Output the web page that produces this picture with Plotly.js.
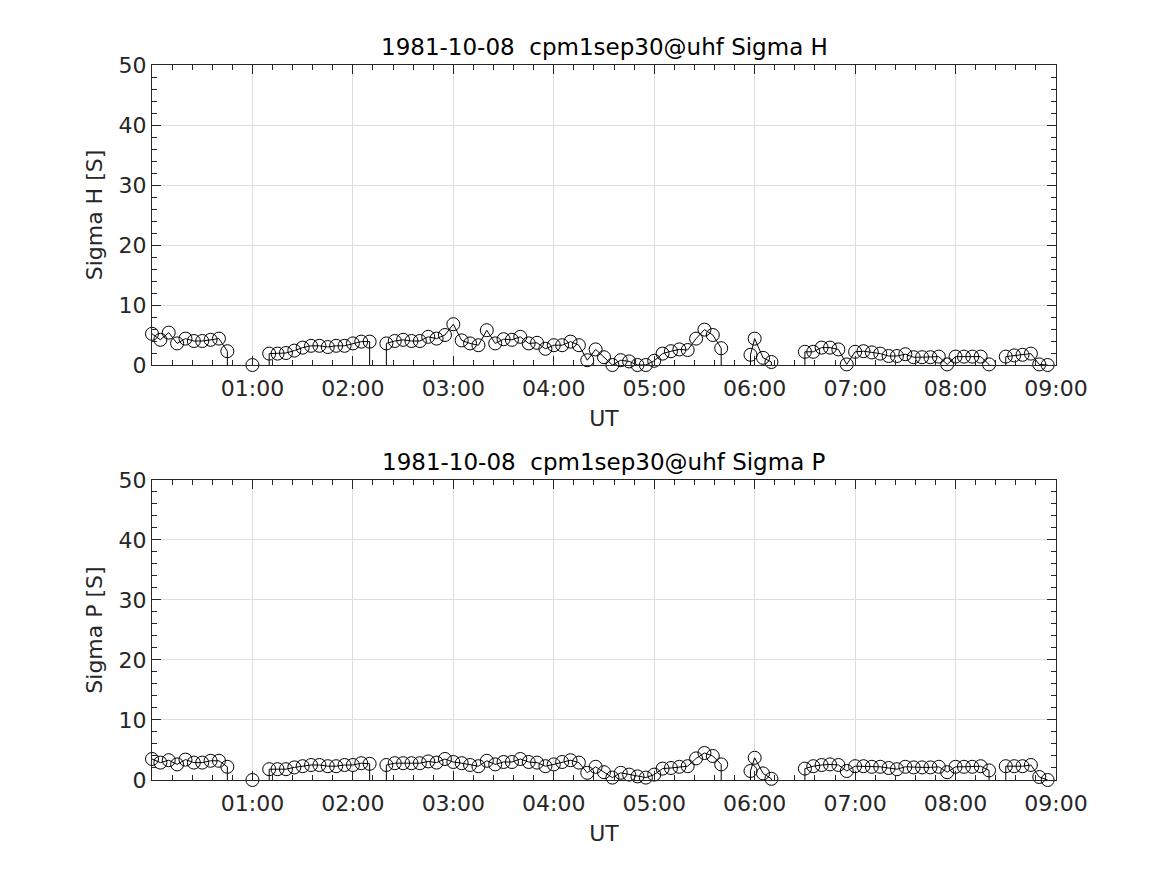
<!DOCTYPE html>
<html>
<head>
<meta charset="utf-8">
<script src="https://cdn.plot.ly/plotly-3.0.1.min.js"></script>
<style>html,body{margin:0;padding:0;background:#fff;}#chart{width:1167px;height:875px;}</style>
</head>
<body>
<div id="chart"></div>
<script>
// Sample times (UT) on 1981-10-08; null values mark missing samples
const times = [
  "00:00","00:05","00:10","00:15","00:20","00:25","00:30","00:35","00:40","00:45","00:50","00:55",
  "01:00","01:05","01:10","01:15","01:20","01:25","01:30","01:35","01:40","01:45","01:50","01:55",
  "02:00","02:05","02:10","02:15","02:20","02:25","02:30","02:35","02:40","02:45","02:50","02:55",
  "03:00","03:05","03:10","03:15","03:20","03:25","03:30","03:35","03:40","03:45","03:50","03:55",
  "04:00","04:05","04:10","04:15","04:20","04:25","04:30","04:35","04:40","04:45","04:50","04:55",
  "05:00","05:05","05:10","05:15","05:20","05:25","05:30","05:35","05:40","05:45","05:50","05:57:30",
  "06:00","06:05","06:10","06:15","06:20","06:25","06:30","06:35","06:40","06:45","06:50","06:55",
  "07:00","07:05","07:10","07:15","07:20","07:25","07:30","07:35","07:40","07:45","07:50","07:55",
  "08:00","08:05","08:10","08:15","08:20","08:25","08:30","08:35","08:40","08:45","08:50","08:55"
];
const sigmaH = [
  5.2,4.2,5.4,3.6,4.4,4.0,4.0,4.2,4.4,2.3,null,null,
  0.0,null,1.9,1.9,2.0,2.4,2.9,3.2,3.2,3.0,3.2,3.2,
  3.6,3.9,3.9,null,3.6,4.0,4.2,4.0,4.0,4.7,4.4,5.0,
  6.8,4.1,3.6,3.3,5.8,3.6,4.3,4.2,4.7,3.6,3.7,2.7,
  3.3,3.3,3.9,3.3,0.8,2.6,1.3,0.0,0.8,0.6,0.0,0.0,
  0.7,1.9,2.3,2.6,2.5,4.4,5.9,5.0,2.8,null,null,1.7,
  4.4,1.2,0.5,null,null,null,2.2,2.2,2.9,2.9,2.6,0.1,
  2.2,2.3,2.1,1.9,1.5,1.5,1.8,1.3,1.3,1.3,1.4,0.1,
  1.4,1.4,1.4,1.4,0.1,null,1.4,1.6,1.7,1.9,0.1,0.0
];
const sigmaP = [
  3.5,2.9,3.3,2.6,3.4,2.9,2.9,3.2,3.2,2.2,null,null,
  0.0,null,1.8,1.8,1.8,2.1,2.3,2.5,2.5,2.3,2.3,2.5,
  2.5,2.8,2.7,null,2.5,2.8,2.8,2.8,2.8,3.1,2.9,3.5,
  3.0,2.8,2.5,2.3,3.2,2.6,3.0,3.0,3.5,3.0,2.9,2.3,
  2.6,3.0,3.3,2.9,1.2,2.2,1.3,0.4,1.2,0.9,0.6,0.4,
  0.9,1.9,2.0,2.2,2.3,3.6,4.5,4.0,2.6,null,null,1.5,
  3.7,1.1,0.2,null,null,null,1.9,2.3,2.5,2.6,2.5,1.5,
  2.3,2.3,2.2,2.2,2.0,1.8,2.2,2.1,2.1,2.1,2.2,1.3,
  2.2,2.2,2.2,2.3,1.6,null,2.3,2.3,2.3,2.5,0.5,0.0
];
const hourTicks = ["01:00","02:00","03:00","04:00","05:00","06:00","07:00","08:00","09:00"];
const yTicks = [0,10,20,30,40,50];
const day = "1981-10-08";
const titleH = "1981-10-08  cpm1sep30@uhf Sigma H";
const titleP = "1981-10-08  cpm1sep30@uhf Sigma P";

const xDates = times.map(t => day + " " + (t.length === 5 ? t + ":00" : t));
function drops(vals){
  return vals.map((v,i) => {
    if (v === null) return 0;
    const prevGap = i > 0 && vals[i-1] === null;
    const nextGap = i < vals.length-1 && vals[i+1] === null;
    return (prevGap || nextGap) ? v : 0;
  });
}
const ink = '#262626';
function trace(vals, xa, ya){
  return {
    x: xDates, y: vals, xaxis: xa, yaxis: ya,
    type: 'scatter', mode: 'lines+markers', connectgaps: false, cliponaxis: false,
    line: {color: '#000', width: 1},
    marker: {symbol: 'circle-open', size: 13, color: '#000', line: {color: '#000', width: 1}},
    error_y: {type: 'data', symmetric: false, array: vals.map(() => 0), arrayminus: drops(vals),
              width: 0, thickness: 1, color: '#000'},
    hoverinfo: 'x+y'
  };
}
function xaxis(anchor){
  return {
    anchor: anchor, type: 'date',
    range: [day + " 00:00:00", day + " 09:00:00"],
    tickmode: 'array', tickvals: hourTicks.map(h => day + " " + h + ":00"), ticktext: hourTicks,
    ticks: 'inside', ticklen: 9, tickwidth: 1, tickcolor: ink,
    showline: true, linecolor: ink, linewidth: 1, mirror: 'ticks',
    showgrid: true, gridcolor: '#dedede', gridwidth: 1, zeroline: false,
    minor: {dtick: 720000, tick0: day + " 00:00:00", ticks: 'inside', ticklen: 5, tickcolor: ink, showgrid: false},
    tickfont: {size: 22, color: ink}, ticklabelstandoff: 4,
    title: {text: 'UT', font: {size: 22, color: ink}, standoff: 10}
  };
}
function yaxis(domain, anchor, label){
  return {
    domain: domain, anchor: anchor, range: [0, 50],
    tickmode: 'array', tickvals: yTicks, ticktext: yTicks.map(String),
    ticks: 'inside', ticklen: 9, tickwidth: 1, tickcolor: ink,
    showline: true, linecolor: ink, linewidth: 1, mirror: 'ticks',
    showgrid: true, gridcolor: '#dedede', gridwidth: 1, zeroline: false,
    minor: {dtick: 2, tick0: 0, ticks: 'inside', ticklen: 5, tickcolor: ink, showgrid: false},
    tickfont: {size: 22, color: ink},
    title: {text: label, font: {size: 22, color: ink}, standoff: 9}
  };
}
const layout = {
  width: 1167, height: 875,
  paper_bgcolor: '#fff', plot_bgcolor: '#fff',
  margin: {l: 152, r: 111, t: 65, b: 95},
  font: {family: 'DejaVu Sans', size: 22, color: ink},
  showlegend: false,
  xaxis: xaxis('y'),
  yaxis: yaxis([0.5804, 1], 'x', 'Sigma H [S]'),
  xaxis2: xaxis('y2'),
  yaxis2: yaxis([0, 0.4196], 'x2', 'Sigma P [S]'),
  annotations: [
    {text: titleH, xref: 'x domain', yref: 'y domain', x: 0.5, y: 1, xanchor: 'center', yanchor: 'bottom',
     yshift: 3, showarrow: false, font: {size: 23, color: '#000'}},
    {text: titleP, xref: 'x2 domain', yref: 'y2 domain', x: 0.5, y: 1, xanchor: 'center', yanchor: 'bottom',
     yshift: 3, showarrow: false, font: {size: 23, color: '#000'}}
  ]
};
Plotly.newPlot('chart', [trace(sigmaH, 'x', 'y'), trace(sigmaP, 'x2', 'y2')], layout, {staticPlot: true, displayModeBar: false});
</script>
</body>
</html>
